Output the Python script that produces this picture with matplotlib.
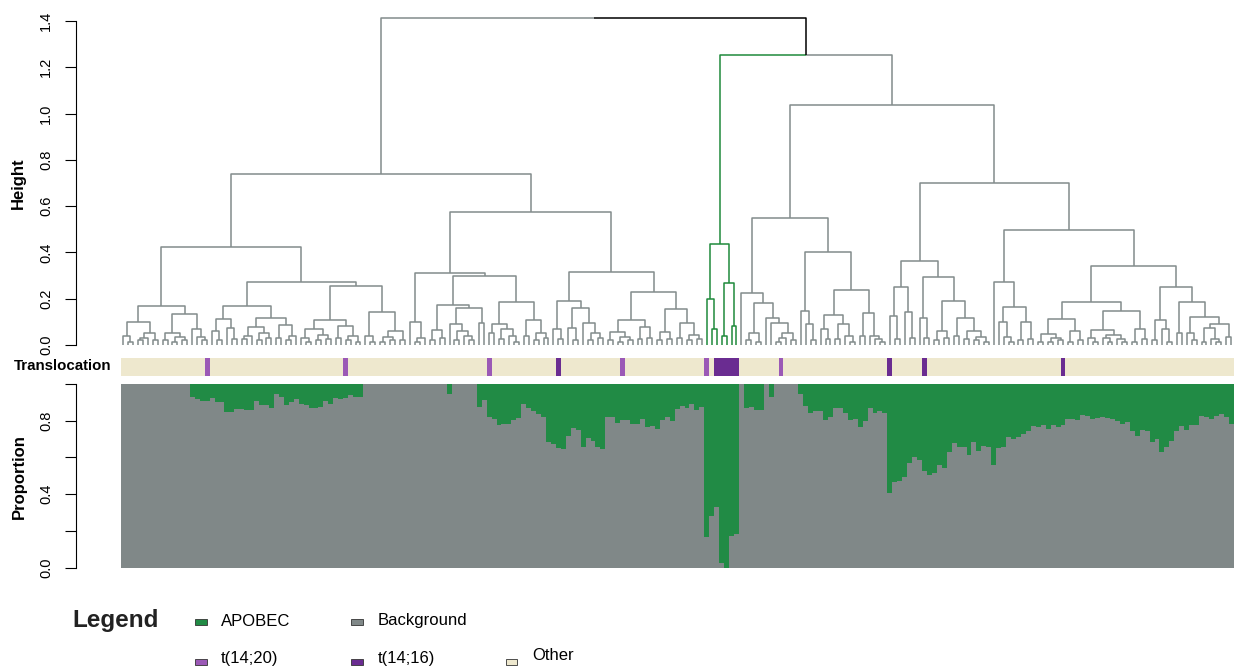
import numpy as np
import matplotlib.pyplot as plt
from matplotlib.collections import LineCollection
from matplotlib.patches import Rectangle

plt.rcParams['font.family'] = ['Liberation Sans', 'DejaVu Sans']

# ---------------- data ----------------
# dendrogram, nested as (left,right)height  with height in hundredths, 'o' = one sample
A1a = "(((o,(o,o)1.5)4,(((o,o)2,o)3,(o,o)2)5)10,(((o,o)2,((o,o)1.5,(o,o)2)3.5)5,(o,(o,(o,o)2)3.5)6.8)13.5)16.9"
A1b_left = ("(((o,(o,o)2)6,(o,(o,o)2.5)7.4)11.4,"
            "((((o,o)2.5,o)4,((o,o)2,(o,o)3)5)7.8,((o,o)3,((o,o)2,o)4)8.7)11.8)17")
A1b_right = ("((((o,(o,o)1.5)3,((o,o)2,(o,o)2.5)4.5)7.1,((o,o)3,((o,o)2,(o,o)1.5)4)8.3)11,"
             "((o,(o,o)1.5)3.7,(((o,o)1.5,(o,o)2)3.5,(o,o)2)6)14.2)25.6")
A2a = ("((o,((o,o)1.5,o)3)10,((((o,o)2,(o,o)3)6.4,((o,((o,o)2,(o,(o,o)2)4)6)9,(o,o)9.3)15.8)17.5,"
       "(((o,o)5,((o,o)2.5,(o,(o,o)1.5)4)7)9,((o,o)4,((o,o)2,(o,o)3)5)11)18.5)30)31.2")
A2b_left = "((o,(o,o)2.5)6.8,((o,(o,o)2)7.2,(o,((o,o)2,(o,o)3)5)9.7)15.8)19"
A2b_right = ("((((o,o)2,((o,o)1.5,(o,o)2)3.5)5.7,((o,o)2.5,(o,o)3)7.8)10.7,"
             "(((o,o)2,(o,o)2.5)5.8,((o,o)3,((o,o)2,(o,o)2.5)4.5)9.3)15.7)23")
G = "((o,(o,o)7)20,((o,o)4,(o,o)8)27)43.6"
C1a = "(o,(((o,o)2,(o,o)1.5)5.4,(o,(o,(((o,o)1.5,o)3,(o,o)2)5)9.4)11.8)18)22.5"
C1b = ("((o,(o,(o,o)2)9)14.6,(((o,(o,o)2.5)6.8,((o,o)2.5,(o,(o,o)1.5)4)9)12.8,"
       "((o,o)4,(o,(o,(o,o)1.5)2.5)3.7)14)23.6)40")
C2a = ("(((o,(o,o)2.5)12.5,(o,(o,o)3)14.2)25,((o,(o,o)3)11.8,(((o,o)2,(o,o)3)6,"
       "((o,o)4,((o,o)2.5,((o,o)2,(o,o)1.5)3.5)6)11.5)19)29.6)36.4")
C2b_left = "(o,((o,(o,(o,o)1.5)3.5)10,((o,o)2,(o,o)2.5)10)16.4)27.4"
C2b_mid = ("((((o,o)1.5,((o,o)1.5,(o,o)2)3)4.7,((o,o)1.5,(o,o)2)6)11.4,"
           "(((o,(o,o)1.5)3,((o,(o,o)1.5)3,(o,(o,o)1.5)2.5)4.5)6.4,((o,o)1.5,(o,o)2.6)6.8)14.6)18.5")
C2b_right = ("(((o,o)2,(o,(o,o)1.5)6.8)11,((o,o)5.4,((o,(o,o)2)5,"
             "(((o,o)1.5,(o,(o,o)1.5)2.5)7.5,(o,o)3.5)9)12)18.5)25")

A = f"(({A1a},({A1b_left},{A1b_right})27.4)42.4,({A2a},({A2b_left},{A2b_right})31.7)57.5)73.9"
C = f"(({C1a},{C1b})54.9,({C2a},({C2b_left},({C2b_mid},{C2b_right})34)49.7)70)103.7"
tree_text = f"({A},({G},{C})125.3)141.3"

# branch colour groups, left to right
cluster_sizes = [118, 7, 100]
cluster_cols = ['#838c8c', '#1f8a3c', '#838c8c']

# translocation status per sample
t1420 = [17, 45, 74, 101, 118, 133]
t1416 = [88, 120, 121, 122, 123, 124, 155, 162, 190]

# proportion of background signature per sample (APOBEC is the rest)
background = [1.0] * 14 + [
    .93, .917, .906, .906, .926, .902, .902, .85, .85, .866, .866, .857, .857, .908,
    .888, .888, .871, .947, .931, .884, .904, .918, .891, .884, .871, .871, .875, .906,
    .889, .922, .917, .926, .938, .927, .927] + [1.0] * 17 + [.944] + [1.0] * 5 + [
    .875, .913, .822, .808, .779, .784, .784, .804, .815, .89, .87, .853, .839, .822,
    .685, .676, .654, .645, .717, .763, .752, .659, .707, .687, .659, .645, .822, .818,
    .79, .803, .803, .784, .784, .812, .765, .772, .757, .804, .818, .797, .864, .879,
    .868, .891, .857, .875,
    .165, .281, .332, .023, 0.0, .174, .185,
    1.0, .871, .875, .857, .857, 1.0, .929, 1.0, 1.0, 1.0, 1.0, 1.0,
    .947, .88, .84, .851, .851, .806, .821, .87, .87, .84, .806, .812, .765, .80,
    .868, .844, .851, .842, .409, .464, .473, .495, .569, .60, .587, .527, .505, .513,
    .56, .542, .63, .679, .658, .658, .614, .685, .636, .663, .658, .558, .654, .658,
    .714, .70, .714, .728, .745, .77, .766, .777, .757, .777, .766, .775, .812, .812,
    .806, .832, .826, .812, .817, .822, .817, .808, .799, .784, .793, .745, .716, .75,
    .746, .685, .703, .632, .658, .687, .745, .772, .75, .777, .777, .826, .822, .812,
    .826, .835, .818, .784]

GREEN = '#218b45'
GREY = '#808888'
BEIGE = '#eee8ce'
PURPLE_L = '#9b59b6'
PURPLE_D = '#6a2c91'


def parse_tree(text):
    pos = 0

    def read():
        nonlocal pos
        if text[pos] == 'o':
            pos += 1
            return None
        pos += 1
        left = read()
        pos += 1
        right = read()
        pos += 1
        start = pos
        while pos < len(text) and text[pos] in '0123456789.':
            pos += 1
        return (float(text[start:pos]) / 100.0, left, right)
    return read()


leaf_cols = []
for n, c in zip(cluster_sizes, cluster_cols):
    leaf_cols += [c] * n


def walk(node, segs, counter):
    if node is None:
        i = counter[0]
        counter[0] += 1
        return i, 0.0, leaf_cols[i]
    h, left, right = node
    xl, hl, cl = walk(left, segs, counter)
    xr, hr, cr = walk(right, segs, counter)
    xm = (xl + xr) / 2
    segs.append(([(xl, hl), (xl, h), (xm, h)], cl))
    segs.append(([(xm, h), (xr, h), (xr, hr)], cr))
    return xm, h, (cl if cl == cr else 'black')


tree = parse_tree(tree_text)
segs = []
counter = [0]
walk(tree, segs, counter)
N = counter[0]

# ---------------- figure ----------------
W, H = 1243, 669
fig = plt.figure(figsize=(W / 100, H / 100), dpi=100)


def px_axes(x0, y0, x1, y1):
    return fig.add_axes([x0 / W, 1 - y1 / H, (x1 - x0) / W, (y1 - y0) / H])


X0, X1 = 120.5, 1233.7
spine_out = (X0 - 76) * 0.72


def style_y(ax, lo, hi, ticks, labels):
    for s in ['top', 'right', 'bottom']:
        ax.spines[s].set_visible(False)
    ax.spines['left'].set_position(('outward', spine_out))
    ax.spines['left'].set_bounds(lo, hi)
    ax.spines['left'].set_linewidth(0.8)
    ax.set_xticks([])
    ax.set_yticks(ticks)
    ax.set_yticklabels(labels)
    ax.tick_params(axis='y', length=7.9, width=0.8, pad=8.5, labelsize=10.5)
    for lab in ax.get_yticklabels():
        lab.set_rotation(90)
        lab.set_va('center')


# dendrogram
ax1 = px_axes(X0, 14, X1, 345)
lc = LineCollection([s[0] for s in segs], colors=[s[1] for s in segs], linewidths=1.1)
ax1.add_collection(lc)
ax1.set_xlim(-0.5, N - 0.5)
ax1.set_ylim(0, (345 - 14) / 231.4)
ax1.patch.set_alpha(0)
style_y(ax1, 0, 1.4, np.arange(0, 1.41, 0.2), ['%.1f' % v for v in np.arange(0, 1.41, 0.2)])

# translocation strip
ax2 = px_axes(X0, 357.7, X1, 375.7)
tcols = []
for i in range(N):
    if i in t1416:
        tcols.append(PURPLE_D)
    elif i in t1420:
        tcols.append(PURPLE_L)
    else:
        tcols.append(BEIGE)
ax2.bar(np.arange(N), np.ones(N), width=1.0, color=tcols, linewidth=0, antialiased=False)
ax2.set_xlim(-0.5, N - 0.5)
ax2.set_ylim(0, 1)
ax2.axis('off')

# proportions
ax3 = px_axes(X0, 384, X1, 567.7)
bg = np.array(background)
ax3.bar(np.arange(N), bg, width=1.0, color=GREY, linewidth=0, antialiased=False)
ax3.bar(np.arange(N), 1 - bg, bottom=bg, width=1.0, color=GREEN, linewidth=0, antialiased=False)
ax3.set_xlim(-0.5, N - 0.5)
ax3.set_ylim(0, 1)
style_y(ax3, 0, 1, [0, .2, .4, .6, .8, 1.0], ['0.0', '', '0.4', '', '0.8', ''])

# labels and legend in pixel space
ov = fig.add_axes([0, 0, 1, 1])
ov.set_xlim(0, W)
ov.set_ylim(H, 0)
ov.axis('off')
ov.patch.set_alpha(0)

ov.text(18, 183, 'Height', rotation=90, fontsize=12, fontweight='bold', ha='center', va='center')
ov.text(19, 477, 'Proportion', rotation=90, fontsize=12, fontweight='bold', ha='center', va='center')
ov.text(111, 366.5, 'Translocation', fontsize=10.8, fontweight='bold', ha='right', va='center')

ov.text(72, 621, 'Legend', fontsize=17.5, fontweight='bold', ha='left', va='center', color='#222222')
items = [(201, 622, GREEN, 'APOBEC', 221, 621),
         (357, 622, GREY, 'Background', 378, 621),
         (201, 662, PURPLE_L, 't(14;20)', 221, 658),
         (357, 662, PURPLE_D, 't(14;16)', 378, 658),
         (511.5, 662, BEIGE, 'Other', 532, 656)]
for bx, by, col, name, tx, ty in items:
    ov.add_patch(Rectangle((bx - 5.75, by - 3.25), 11.5, 6.5, facecolor=col,
                           edgecolor='#333333', linewidth=0.6))
    ov.text(tx, ty, name, fontsize=12, ha='left', va='center')

plt.savefig('out.png', dpi=100)
